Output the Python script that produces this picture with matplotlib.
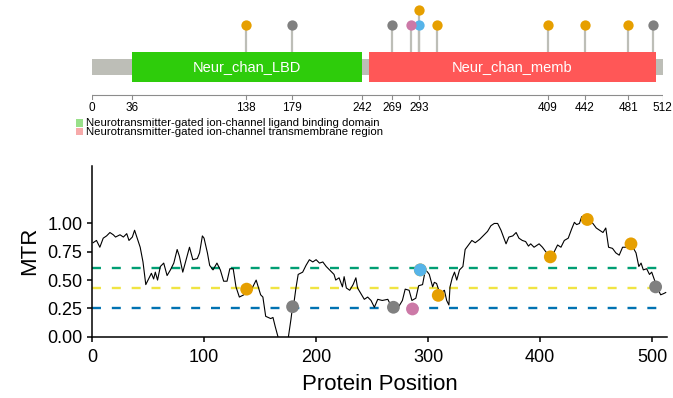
import matplotlib
matplotlib.use("Agg")
import matplotlib.pyplot as plt
from matplotlib.patches import Rectangle

plt.rcParams['font.family'] = ['Liberation Sans', 'DejaVu Sans']

# protein domains
prot_len = 512
dom_names = ['Neur_chan_LBD', 'Neur_chan_memb']
dom_start = [36, 248]
dom_end = [242, 506]
dom_colors = ['#2ECC0B', '#FF5757']
legend_labels = ['Neurotransmitter-gated ion-channel ligand binding domain',
                 'Neurotransmitter-gated ion-channel transmembrane region']
legend_colors = ['#99E08A', '#F7AAAA']
top_ticks = [0, 36, 138, 179, 242, 269, 293, 409, 442, 481, 512]

# variants
var_pos = [138, 179, 269, 286, 293, 293, 309, 409, 442, 481, 503]
var_mtr = [0.42, 0.265, 0.26, 0.245, 0.59, 0.59, 0.365, 0.705, 1.035, 0.82, 0.44]
var_col = ['#E69F00', '#808080', '#808080', '#CC79A7', '#E69F00', '#56B4E9',
           '#E69F00', '#E69F00', '#E69F00', '#E69F00', '#808080']

# MTR along the protein
mtr_pos = [1, 4, 7, 10, 13, 16, 19, 21, 25, 28, 31, 33, 36, 38, 41, 43, 45.5, 48,
           51, 53, 55, 56.5, 58.5, 61, 64, 67, 70, 73, 76, 78, 81, 84, 87, 90, 94,
           96, 98.5, 100, 103, 105, 108, 111.5, 114.5, 117.5, 120.5, 123, 126,
           128.5, 131.5, 135.5, 138, 140, 143, 146.5, 150.5, 152.5, 155, 159.5,
           161.5, 163.5, 166.5, 168, 173, 175, 177.5, 179, 180.5, 182, 184, 188,
           191, 194, 197, 200, 203, 206, 209, 212, 216, 217.5, 220.5, 223.5, 225,
           227, 230, 233, 235.5, 237, 240, 243, 246, 249, 252, 255, 259, 264, 266,
           269, 274, 277, 279.5, 283, 285.5, 289, 291.5, 295, 297.5, 299.5, 301,
           304, 305.5, 307.5, 310.5, 314.5, 316.5, 318.5, 319.5, 321.5, 323.5,
           325.5, 328, 331, 333, 336, 339, 342, 346, 350, 353, 356, 359, 362, 365,
           369.5, 372, 375.5, 378.5, 381, 384, 387, 389.5, 391.5, 394.5, 399, 402,
           405, 409, 412.5, 415.5, 418.5, 421.5, 425, 428, 430.5, 432.5, 435, 437,
           442, 447, 450, 453, 456, 458.5, 461, 464.5, 467.5, 470.5, 473.5, 478,
           481, 485.5, 488, 490, 492, 495, 497.5, 499.5, 502, 504, 507.5, 510, 512]
mtr_val = [0.83, 0.85, 0.79, 0.87, 0.89, 0.92, 0.90, 0.88, 0.90, 0.88, 0.91, 0.85,
           0.88, 0.94, 0.85, 0.79, 0.66, 0.46, 0.52, 0.56, 0.51, 0.57, 0.50, 0.62,
           0.65, 0.54, 0.59, 0.65, 0.77, 0.71, 0.57, 0.68, 0.79, 0.68, 0.69, 0.74,
           0.89, 0.87, 0.74, 0.63, 0.59, 0.65, 0.59, 0.49, 0.49, 0.60, 0.60, 0.44,
           0.35, 0.37, 0.42, 0.41, 0.43, 0.50, 0.37, 0.35, 0.18, 0.16, 0.17, 0.09,
           -0.02, -0.12, -0.12, -0.02, 0.15, 0.265, 0.32, 0.43, 0.55, 0.57, 0.63,
           0.68, 0.66, 0.68, 0.65, 0.66, 0.62, 0.59, 0.55, 0.50, 0.52, 0.44, 0.53,
           0.43, 0.41, 0.46, 0.52, 0.43, 0.38, 0.33, 0.35, 0.32, 0.26, 0.33, 0.32,
           0.33, 0.29, 0.27, 0.27, 0.32, 0.42, 0.41, 0.32, 0.34, 0.45, 0.46, 0.59,
           0.57, 0.55, 0.44, 0.48, 0.47, 0.38, 0.41, 0.32, 0.28, 0.44, 0.52, 0.57,
           0.50, 0.59, 0.62, 0.77, 0.81, 0.85, 0.83, 0.86, 0.90, 0.93, 0.98, 1.00,
           1.00, 0.94, 0.82, 0.88, 0.89, 0.92, 0.87, 0.85, 0.84, 0.80, 0.82, 0.79,
           0.82, 0.79, 0.75, 0.71, 0.75, 0.81, 0.79, 0.85, 0.87, 0.95, 1.01, 0.99,
           1.00, 1.06, 1.04, 1.00, 0.96, 0.94, 0.92, 0.96, 0.79, 0.78, 0.74, 0.72,
           0.79, 0.79, 0.82, 0.74, 0.62, 0.65, 0.59, 0.60, 0.55, 0.57, 0.50, 0.44,
           0.37, 0.38, 0.39]

# reference lines
ref_vals = [0.61, 0.43, 0.255]
ref_cols = ['#009E73', '#F0E442', '#0072B2']

W, H = 673, 398
fig = plt.figure(figsize=(W / 100, H / 100), dpi=100)

##########################################################################
# protein diagram, y in pixel rows from the top
ax0 = fig.add_axes([92.3 / W, 1 - 140 / H, 570.4 / W, 140 / H])
ax0.set_xlim(0, prot_len)
ax0.set_ylim(140, 0)
ax0.axis('off')

ax0.add_patch(Rectangle((0, 59), prot_len, 16, color='#BDBEB7', lw=0, zorder=1))
for name, s, e, c in zip(dom_names, dom_start, dom_end, dom_colors):
    ax0.add_patch(Rectangle((s, 52.3), e - s, 29.4, color=c, lw=0, zorder=2))
    ax0.text((s + e) / 2, 67.5, name, color='white', fontsize=10.5,
             ha='center', va='center', zorder=3)

# lollipops, stacked where positions repeat (last one sits lowest)
seen = {}
for p, c in reversed(list(zip(var_pos, var_col))):
    lvl = seen.get(p, 0)
    seen[p] = lvl + 1
    y = 25 - 15 * lvl
    ax0.plot([p, p], [52.3, y], color='#BDBEB7', lw=1.6, zorder=1.5,
             solid_capstyle='butt')
    ax0.scatter([p], [y], s=55, color=c, lw=0, zorder=4)

# position scale
ax0.plot([0, prot_len], [94.5, 94.5], color='#8C8C8C', lw=0.8)
for t in top_ticks:
    ax0.plot([t, t], [94.5, 99], color='#8C8C8C', lw=0.8)
    ax0.text(t, 102, str(t), fontsize=8.5, ha='center', va='top')

# domain legend
for i, (lab, c) in enumerate(zip(legend_labels, legend_colors)):
    yp = 119.5 + 8.5 * i
    fig.patches.append(Rectangle((76 / W, 1 - (yp + 7) / H), 6.5 / W, 7 / H,
                                 color=c, lw=0, transform=fig.transFigure))
    fig.text(86 / W, 1 - (yp + 3.8) / H, lab, fontsize=8.2, va='center',
             ha='left')

##########################################################################
# MTR plot
ax = fig.add_axes([92 / W, (H - 336.7) / H, 575.4 / W, 171 / H])
ax.set_xlim(0, 513.5)
ax.set_ylim(0, 1.51)

for v, c in zip(ref_vals, ref_cols):
    ax.axhline(v, color=c, lw=1.7, ls=(0, (3.8, 4.6)), zorder=1)

ax.plot(mtr_pos, mtr_val, color='black', lw=0.8, zorder=2)
ax.scatter(var_pos, var_mtr, s=85, c=var_col, lw=0, zorder=3)

ax.spines['top'].set_visible(False)
ax.spines['right'].set_visible(False)
ax.spines['left'].set_linewidth(1.1)
ax.spines['bottom'].set_linewidth(1.1)
ax.set_xticks([0, 100, 200, 300, 400, 500])
ax.set_yticks([0, 0.25, 0.5, 0.75, 1.0])
ax.set_yticklabels(['0.00', '0.25', '0.50', '0.75', '1.00'])
ax.tick_params(labelsize=13, length=3.5, width=1.1, color='black',
               labelcolor='black', pad=3.5)
ax.tick_params(axis='x', pad=5)
ax.set_xlabel('Protein Position', fontsize=16, labelpad=6)
ax.set_ylabel('MTR', fontsize=16, labelpad=5)

fig.savefig('out.png', dpi=100)
plt.close(fig)
